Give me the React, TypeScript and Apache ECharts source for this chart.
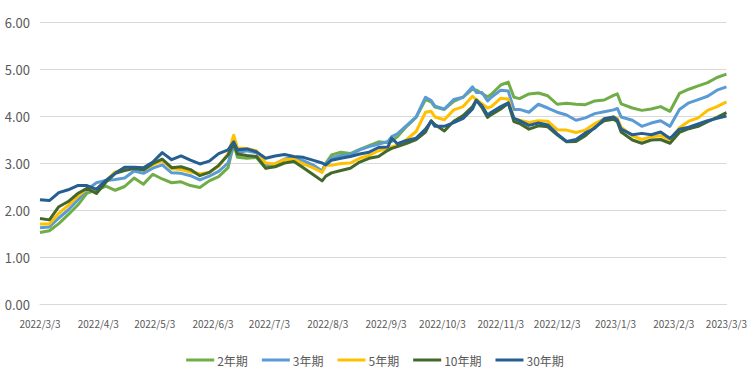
import React, { useEffect, useRef } from "react";
import * as echarts from "echarts";

const AXIS_START = "2022/3/3";
const AXIS_END = "2023/3/3";

const SERIES_NAMES = ["2年期", "3年期", "5年期", "10年期", "30年期"];
const SERIES_COLORS = ["#70AD47", "#5B9BD5", "#FFC000", "#43682B", "#255E91"];

const DATES = [
  "2022/3/3", "2022/3/8", "2022/3/13", "2022/3/18", "2022/3/23", "2022/3/28", "2022/4/2", "2022/4/7", "2022/4/12", "2022/4/17", "2022/4/22", "2022/4/27", "2022/5/2", "2022/5/7", "2022/5/12", "2022/5/17", "2022/5/22", "2022/5/27", "2022/6/1", "2022/6/6", "2022/6/11",
  "2022/6/14", "2022/6/16", "2022/6/21", "2022/6/26", "2022/7/1", "2022/7/6", "2022/7/11", "2022/7/16", "2022/7/21", "2022/7/26", "2022/7/31",
  "2022/8/2", "2022/8/5", "2022/8/10", "2022/8/15", "2022/8/20", "2022/8/25", "2022/8/30", "2022/9/4",
  "2022/9/6", "2022/9/9", "2022/9/14", "2022/9/19", "2022/9/24",
  "2022/9/27", "2022/9/29", "2022/10/4", "2022/10/9", "2022/10/14", "2022/10/19",
  "2022/10/21", "2022/10/24", "2022/10/27", "2022/10/29", "2022/11/3",
  "2022/11/7", "2022/11/10", "2022/11/13", "2022/11/18", "2022/11/23", "2022/11/28", "2022/12/3", "2022/12/8", "2022/12/13", "2022/12/18", "2022/12/23", "2022/12/28", "2023/1/2",
  "2023/1/4", "2023/1/6", "2023/1/12", "2023/1/17", "2023/1/22", "2023/1/27", "2023/2/1", "2023/2/6", "2023/2/11", "2023/2/16", "2023/2/21", "2023/2/26", "2023/3/3",
];

const Y2 = [
  1.52, 1.56, 1.71, 1.90, 2.10, 2.36, 2.42, 2.51, 2.42, 2.50, 2.68, 2.55, 2.76, 2.66, 2.58, 2.60, 2.52, 2.48, 2.62, 2.71, 2.90,
  3.40, 3.12, 3.10, 3.12, 2.89, 2.95, 3.08, 3.10, 2.98, 2.95, 2.82,
  3.00, 3.17, 3.23, 3.20, 3.29, 3.37, 3.45, 3.43,
  3.46, 3.56, 3.78, 3.97, 4.35,
  4.30, 4.19, 4.14, 4.31, 4.40, 4.57,
  4.55, 4.48, 4.41, 4.46, 4.66,
  4.72, 4.40, 4.37, 4.47, 4.49, 4.43, 4.25, 4.27, 4.25, 4.24, 4.32, 4.34, 4.44,
  4.47, 4.26, 4.17, 4.12, 4.15, 4.20, 4.10, 4.48, 4.57, 4.64, 4.71, 4.82, 4.89,
];

const Y3 = [
  1.62, 1.64, 1.83, 2.00, 2.21, 2.43, 2.58, 2.63, 2.65, 2.68, 2.83, 2.78, 2.89, 2.96, 2.79, 2.78, 2.73, 2.64, 2.72, 2.82, 3.00,
  3.40, 3.22, 3.26, 3.22, 2.96, 2.98, 3.08, 3.12, 3.05, 2.96, 2.83,
  2.98, 3.10, 3.16, 3.18, 3.28, 3.35, 3.40, 3.46,
  3.56, 3.62, 3.80, 3.98, 4.40,
  4.33, 4.21, 4.15, 4.35, 4.40, 4.62,
  4.50, 4.50, 4.32, 4.40, 4.55,
  4.53, 4.14, 4.14, 4.08, 4.25, 4.17, 4.08, 4.02, 3.91, 3.96, 4.05, 4.09, 4.13,
  4.16, 3.98, 3.91, 3.78, 3.85, 3.90, 3.78, 4.14, 4.28, 4.35, 4.42, 4.55, 4.62,
];

const Y5 = [
  1.70, 1.70, 1.93, 2.10, 2.29, 2.45, 2.45, 2.62, 2.81, 2.86, 2.90, 2.86, 2.96, 3.05, 2.88, 2.86, 2.81, 2.77, 2.80, 2.93, 3.20,
  3.59, 3.32, 3.31, 3.26, 3.00, 2.98, 3.07, 3.08, 2.98, 2.90, 2.80,
  2.95, 2.95, 2.99, 3.00, 3.10, 3.16, 3.26, 3.31,
  3.34, 3.38, 3.50, 3.67, 4.08,
  4.10, 3.98, 3.92, 4.13, 4.20, 4.42,
  4.35, 4.26, 4.17, 4.20, 4.38,
  4.36, 3.95, 3.91, 3.86, 3.90, 3.89, 3.71, 3.70, 3.65, 3.70, 3.84, 3.94, 3.98,
  3.95, 3.76, 3.58, 3.50, 3.56, 3.58, 3.49, 3.75, 3.89, 3.96, 4.12, 4.20, 4.30,
];

const Y10 = [
  1.82, 1.79, 2.07, 2.18, 2.35, 2.46, 2.35, 2.59, 2.78, 2.84, 2.88, 2.85, 2.99, 3.08, 2.90, 2.92, 2.86, 2.73, 2.80, 2.95, 3.17,
  3.42, 3.19, 3.16, 3.14, 2.89, 2.92, 3.00, 3.03, 2.90, 2.76, 2.62,
  2.72, 2.79, 2.84, 2.89, 3.02, 3.10, 3.14, 3.27,
  3.31, 3.35, 3.42, 3.50, 3.66,
  3.90, 3.82, 3.68, 3.89, 4.01, 4.20,
  4.34, 4.18, 3.97, 4.03, 4.15,
  4.27, 3.88, 3.84, 3.72, 3.79, 3.77, 3.60, 3.45, 3.46, 3.58, 3.76, 3.90, 3.93,
  3.88, 3.66, 3.49, 3.42, 3.49, 3.50, 3.42, 3.65, 3.73, 3.78, 3.88, 3.97, 4.07,
];

const Y30 = [
  2.22, 2.20, 2.37, 2.43, 2.52, 2.52, 2.44, 2.63, 2.78, 2.91, 2.91, 2.90, 3.02, 3.22, 3.07, 3.15, 3.06, 2.98, 3.04, 3.20, 3.28,
  3.45, 3.28, 3.30, 3.24, 3.10, 3.15, 3.18, 3.14, 3.12, 3.06, 3.00,
  2.96, 3.06, 3.10, 3.14, 3.19, 3.23, 3.33, 3.34,
  3.53, 3.41, 3.48, 3.53, 3.72,
  3.89, 3.78, 3.78, 3.86, 3.95, 4.15,
  4.33, 4.22, 4.02, 4.08, 4.20,
  4.28, 3.95, 3.90, 3.80, 3.85, 3.81, 3.62, 3.46, 3.50, 3.64, 3.74, 3.94, 3.98,
  3.91, 3.72, 3.60, 3.63, 3.60, 3.66, 3.52, 3.72, 3.76, 3.83, 3.90, 3.95, 4.00,
];

const SERIES_VALUES = [Y2, Y3, Y5, Y10, Y30];

const DAY_MS = 86400000;
function parseDate(s: string): number {
  const [y, m, d] = s.split("/").map(Number);
  return Date.UTC(y, m - 1, d);
}
function fmtDate(t: number): string {
  const dt = new Date(t);
  return `${dt.getUTCFullYear()}/${dt.getUTCMonth() + 1}/${dt.getUTCDate()}`;
}

export default function App() {
  const ref = useRef<HTMLDivElement>(null);
  useEffect(() => {
    document.body.style.margin = "0";
    if (!ref.current) return;
    const chart = echarts.init(ref.current, undefined, { renderer: "svg" });
    const t0 = parseDate(AXIS_START);
    const t1 = parseDate(AXIS_END);
    const categories: string[] = [];
    for (let t = t0; t <= t1; t += DAY_MS) categories.push(fmtDate(t));
    const idx = DATES.map((d) => Math.round((parseDate(d) - t0) / DAY_MS));
    const narrow = "'Liberation Sans Narrow', 'Noto Sans CJK SC', sans-serif";

    chart.setOption({
      animation: false,
      grid: { left: 40, right: 17, top: 22, bottom: 84, containLabel: false },
      legend: {
        data: SERIES_NAMES,
        left: "center",
        top: 349,
        icon: "rect",
        itemWidth: 28,
        itemHeight: 3,
        itemGap: 14,
        textStyle: { color: "#595959", fontSize: 12, fontFamily: narrow, padding: [0, 0, 0, -2] },
      },
      xAxis: {
        type: "category",
        data: categories,
        boundaryGap: false,
        axisTick: { show: false },
        axisLine: { lineStyle: { color: "#D9D9D9", width: 1 } },
        splitLine: { show: false },
        axisLabel: {
          interval: (_i: number, v: string) => v.split("/")[2] === "3",
          color: "#595959",
          fontSize: 10,
          fontFamily: narrow,
          margin: 14,
        },
      },
      yAxis: {
        type: "value",
        min: 0,
        max: 6,
        interval: 1,
        axisLine: { show: false },
        axisTick: { show: false },
        splitLine: { lineStyle: { color: "#D9D9D9", width: 1 } },
        axisLabel: {
          formatter: (v: number) => v.toFixed(2),
          color: "#595959",
          fontSize: 13,
          fontFamily: narrow,
          margin: 10,
        },
      },
      series: SERIES_NAMES.map((name, i) => ({
        name,
        type: "line",
        symbol: "none",
        data: SERIES_VALUES[i].map((v, j) => [idx[j], v]),
        lineStyle: { color: SERIES_COLORS[i], width: 3, join: "round" },
        itemStyle: { color: SERIES_COLORS[i] },
      })),
    });
    return () => chart.dispose();
  }, []);
  return <div ref={ref} style={{ width: 750, height: 388 }} />;
}
